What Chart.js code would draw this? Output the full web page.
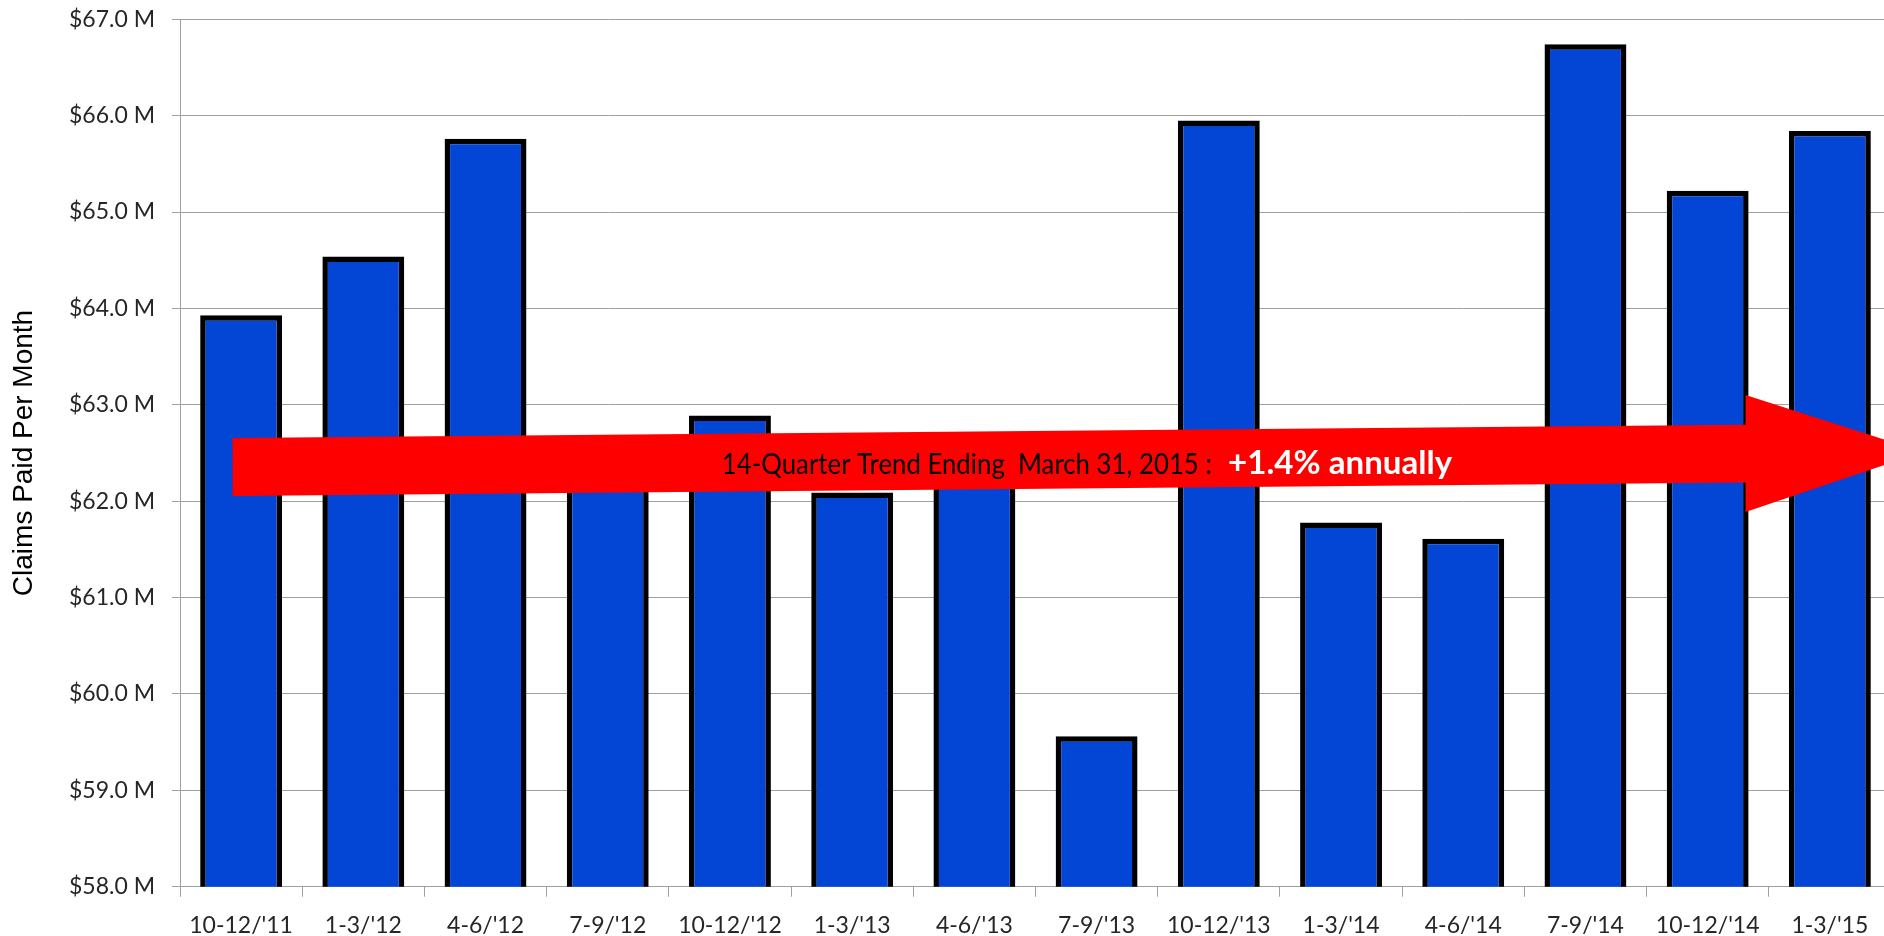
<!DOCTYPE html>
<html>
<head>
<meta charset="utf-8">
<script src="https://cdn.jsdelivr.net/npm/chart.js@4.4.1/dist/chart.umd.min.js"></script>
<style>
    html, body { margin:0; padding:0; background:#ffffff; overflow:hidden; }
    canvas { display:block; }
</style>
</head>
<body>
<canvas id="canvasGraph" width="1891" height="936"></canvas>
<script>
// Données du graphique (millions de dollars payés par mois)
var trimestres = ["10-12/'11", "1-3/'12", "4-6/'12", "7-9/'12", "10-12/'12", "1-3/'13", "4-6/'13",
                  "7-9/'13", "10-12/'13", "1-3/'14", "4-6/'14", "7-9/'14", "10-12/'14", "1-3/'15"];
var sinistresPayes = [63.93, 64.54, 65.76, 62.35, 62.89, 62.09, 62.40,
                      59.56, 65.95, 61.78, 61.61, 66.74, 65.22, 65.84];
var graduationsY = [58, 59, 60, 61, 62, 63, 64, 65, 66, 67];
var titreAxeY = "Claims Paid Per Month";
var texteTendance = "14-Quarter Trend Ending  March 31, 2015 :";
var texteTaux = "+1.4% annually";

// Flèche de tendance, en unités du graphique (index de trimestre, millions)
var flecheDebut = { x: -0.07, y: 62.355 };
var flecheFin = { x: 13.76, y: 62.51 };
var flecheBaseTete = 12.31;
var flecheDemiCorps = 0.30;
var flecheDemiTete = 0.607;

// Permet de formater une graduation de l'axe Y
function FormaterMontant(valeur)
{
    return "$" + Number(valeur).toFixed(1) + " M";
}

// Hauteur de la ligne centrale de la flèche pour un index donné
function CentreFleche(x)
{
    var t = (x - flecheDebut.x) / (flecheFin.x - flecheDebut.x);
    return flecheDebut.y + t * (flecheFin.y - flecheDebut.y);
}

// Ecrit un texte étiré horizontalement pour occuper une largeur donnée
function EcrireTexte(ctx, texte, police, couleur, x, y, largeur)
{
    ctx.save();
    ctx.font = police;
    ctx.fillStyle = couleur;
    ctx.textAlign = "left";
    ctx.textBaseline = "alphabetic";
    var mesure = ctx.measureText(texte).width;
    ctx.translate(x, y);
    ctx.scale(largeur / mesure, 1);
    ctx.fillText(texte, 0, 0);
    ctx.restore();
}

var pluginFleche = {
    id: "flecheTendance",
    afterDatasetsDraw: function(chart)
    {
        var ctx = chart.ctx;
        var sx = chart.scales.x;
        var sy = chart.scales.y;

        var x0 = sx.getPixelForValue(flecheDebut.x);
        var xb = sx.getPixelForValue(flecheBaseTete);
        var xt = sx.getPixelForValue(flecheFin.x);
        var c0 = CentreFleche(flecheDebut.x);
        var cb = CentreFleche(flecheBaseTete);

        ctx.save();
        ctx.fillStyle = "#ff0000";
        ctx.beginPath();
        ctx.moveTo(x0, sy.getPixelForValue(c0 + flecheDemiCorps));
        ctx.lineTo(xb, sy.getPixelForValue(cb + flecheDemiCorps));
        ctx.lineTo(xb, sy.getPixelForValue(cb + flecheDemiTete));
        ctx.lineTo(xt, sy.getPixelForValue(flecheFin.y));
        ctx.lineTo(xb, sy.getPixelForValue(cb - flecheDemiTete));
        ctx.lineTo(xb, sy.getPixelForValue(cb - flecheDemiCorps));
        ctx.lineTo(x0, sy.getPixelForValue(c0 - flecheDemiCorps));
        ctx.closePath();
        ctx.fill();
        ctx.restore();

        var ligne = sy.getPixelForValue(62.282);
        var largeurTrimestre = sx.getPixelForValue(1) - sx.getPixelForValue(0);
        EcrireTexte(ctx, texteTendance, "28px Lato", "#000000",
                    sx.getPixelForValue(3.933), ligne, 4.01 * largeurTrimestre);
        EcrireTexte(ctx, texteTaux, "bold 32px Lato", "#ffffff",
                    sx.getPixelForValue(8.076), ligne, 1.833 * largeurTrimestre);
    }
};

function DessinerGraphique()
{
    var chartdata = {
        labels: trimestres,
        datasets: [
            {
                label: titreAxeY,
                data: sinistresPayes,
                backgroundColor: "#0346d6",
                borderColor: "#000000",
                borderWidth: 5.5,
                borderSkipped: false,
                barPercentage: 0.67,
                categoryPercentage: 1.0
            }
        ]
    };

    var graphTarget = document.getElementById("canvasGraph");

    var barGraph = new Chart(graphTarget, {
        type: "bar",
        data: chartdata,
        plugins: [pluginFleche],
        options: {
            responsive: false,
            animation: false,
            devicePixelRatio: 1,
            layout: { padding: { top: 19.3, left: 0, right: 0, bottom: 0 } },
            plugins: {
                legend: { display: false },
                tooltip: { enabled: false }
            },
            scales: {
                x: {
                    grid: {
                        display: true,
                        drawOnChartArea: false,
                        drawTicks: true,
                        tickLength: 10,
                        color: "#a0a0a0",
                        lineWidth: 1
                    },
                    border: { display: true, color: "#a0a0a0", width: 1 },
                    ticks: {
                        color: "#262626",
                        font: { family: "Lato", size: 23 },
                        padding: 15,
                        maxRotation: 0,
                        autoSkip: false
                    },
                    afterFit: function(scale)
                    {
                        scale.height = 49.3;
                        scale.paddingLeft = 0;
                        scale.paddingRight = 0;
                    }
                },
                y: {
                    min: graduationsY[0],
                    max: graduationsY[graduationsY.length - 1],
                    afterBuildTicks: function(scale)
                    {
                        scale.ticks = graduationsY.map(function(v) { return { value: v }; });
                    },
                    grid: {
                        color: "#a0a0a0",
                        lineWidth: 1,
                        drawTicks: true,
                        tickLength: 8
                    },
                    border: { display: true, color: "#a0a0a0", width: 1 },
                    ticks: {
                        color: "#262626",
                        font: { family: "Lato", size: 23 },
                        padding: 17,
                        callback: function(valeur) { return FormaterMontant(valeur); }
                    },
                    title: {
                        display: true,
                        text: titreAxeY,
                        color: "#000000",
                        font: { family: "Liberation Sans", size: 28 },
                        padding: { top: 7, bottom: 0 }
                    },
                    afterFit: function(scale)
                    {
                        scale.width = 180;
                        scale.paddingTop = 0;
                        scale.paddingBottom = 0;
                    }
                }
            }
        }
    });
}

DessinerGraphique();
</script>
</body>
</html>
